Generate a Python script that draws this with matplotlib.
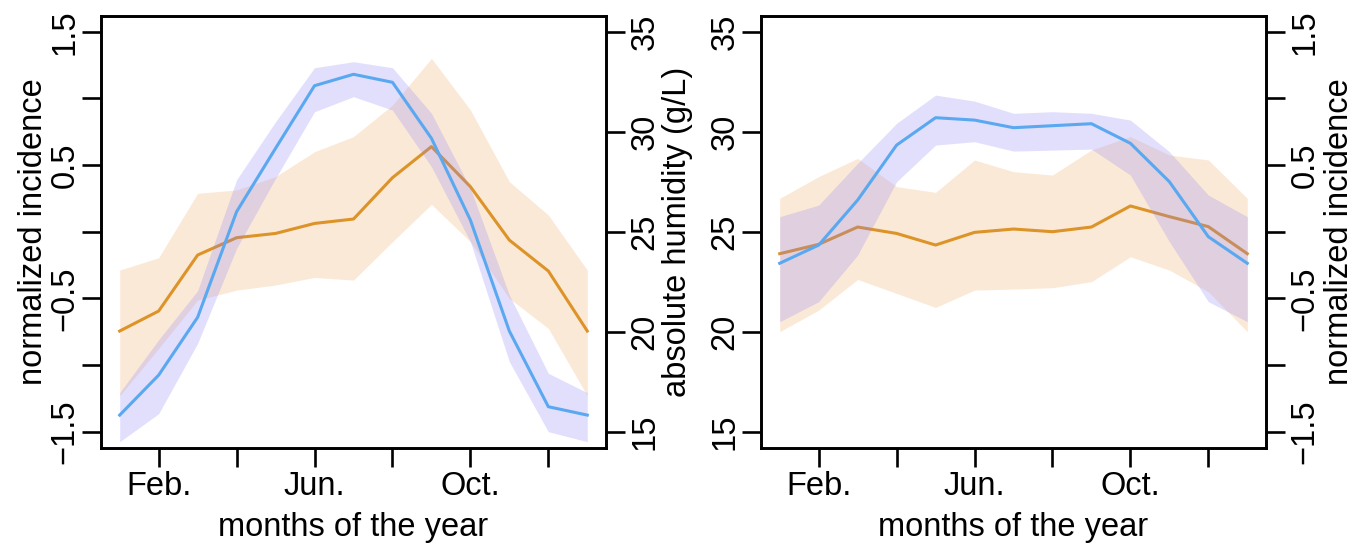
import matplotlib
matplotlib.use("Agg")
import matplotlib.pyplot as plt
from matplotlib.ticker import FixedLocator, FixedFormatter

plt.rcParams['font.family'] = ['Liberation Sans', 'DejaVu Sans']
plt.rcParams['axes.unicode_minus'] = True

# ---------------- data ----------------
months = list(range(1, 14))
month_ticks = [2, 4, 6, 8, 10, 12]
month_labels = ['Feb.', '', 'Jun.', '', 'Oct.', '']

inc_ticks = [-1.5, -1.0, -0.5, 0.0, 0.5, 1.0, 1.5]
inc_labels = ['\u22121.5', '', '\u22120.5', '', '0.5', '', '1.5']
hum_ticks = [15, 20, 25, 30, 35]
hum_labels = ['15', '20', '25', '30', '35']

# left panel
inc_L = [-0.745, -0.595, -0.175, -0.045, -0.013, 0.062, 0.095, 0.405, 0.638, 0.338, -0.063, -0.295, -0.745]
inc_L_hi = [-0.288, -0.195, 0.288, 0.313, 0.413, 0.600, 0.713, 0.950, 1.300, 0.913, 0.375, 0.125, -0.288]
inc_L_lo = [-1.23, -0.875, -0.513, -0.438, -0.400, -0.343, -0.363, -0.075, 0.205, -0.075, -0.500, -0.725, -1.23]
hum_L = [15.83, 17.83, 20.72, 26.0, 29.17, 32.3, 32.87, 32.47, 29.67, 25.58, 20.03, 16.25, 15.83]
hum_L_hi = [16.95, 19.6, 22.05, 27.6, 30.5, 33.2, 33.5, 33.2, 30.92, 27.17, 21.83, 17.92, 16.95]
hum_L_lo = [14.5, 15.9, 19.42, 24.17, 27.67, 31.0, 31.75, 31.08, 28.25, 24.5, 18.5, 15.0, 14.5]

# right panel
hum_R = [23.42, 24.33, 26.58, 29.33, 30.7, 30.58, 30.2, 30.3, 30.4, 29.42, 27.5, 24.75, 23.42]
hum_R_hi = [25.75, 26.33, 28.42, 30.42, 31.83, 31.53, 30.92, 31.0, 30.92, 30.58, 29.0, 26.83, 25.75]
hum_R_lo = [20.5, 21.5, 23.83, 27.5, 29.33, 29.5, 29.03, 29.08, 29.13, 27.83, 24.5, 21.5, 20.5]
inc_R = [-0.165, -0.095, 0.035, -0.013, -0.1, -0.005, 0.02, 0.0, 0.035, 0.193, 0.113, 0.038, -0.165]
inc_R_hi = [0.25, 0.413, 0.55, 0.338, 0.295, 0.538, 0.45, 0.425, 0.613, 0.713, 0.575, 0.538, 0.25]
inc_R_lo = [-0.75, -0.588, -0.358, -0.463, -0.568, -0.438, -0.43, -0.42, -0.375, -0.188, -0.288, -0.45, -0.75]

# ---------------- style ----------------
FS = 23.5
ORANGE_LINE = '#dc9328'
BLUE_LINE = '#5aa8f0'
ORANGE_FILL = '#f0a860'
BLUE_FILL = '#8c82fa'
OA, BA = 0.25, 0.25
LW = 2.2
TICKLEN = 14
SPW = 1.9

W, H = 1370, 546
fig = plt.figure(figsize=(W / 100, H / 100), dpi=100)


def rect(x0, x1, ytop, ybot):
    return [x0 / W, 1 - ybot / H, (x1 - x0) / W, (ybot - ytop) / H]


XLIM = (0.52, 13.48)
INC_LIM = (-1.62, 1.62)
HUM_LIM = (14.2, 35.8)


def style_x(ax):
    ax.set_xlim(*XLIM)
    ax.xaxis.set_major_locator(FixedLocator(month_ticks))
    ax.xaxis.set_major_formatter(FixedFormatter(month_labels))
    ax.tick_params(axis='x', direction='out', length=TICKLEN, width=SPW,
                   labelsize=FS, pad=3)
    ax.set_xlabel('months of the year', fontsize=FS)
    ax.xaxis.set_label_coords(0.5, -0.148)
    for s in ax.spines.values():
        s.set_linewidth(SPW)


def style_inc(ax):
    ax.set_ylim(*INC_LIM)
    ax.yaxis.set_major_locator(FixedLocator(inc_ticks))
    ax.yaxis.set_major_formatter(FixedFormatter(inc_labels))


def style_hum(ax):
    ax.set_ylim(*HUM_LIM)
    ax.yaxis.set_major_locator(FixedLocator(hum_ticks))
    ax.yaxis.set_major_formatter(FixedFormatter(hum_labels))


def style_y(ax, side):
    pad = 0.5 if side == 'left' else 3
    ax.tick_params(axis='y', direction='out', length=TICKLEN, width=SPW,
                   labelsize=FS, pad=pad, labelrotation=90)
    for lab in ax.get_yticklabels():
        lab.set_va('center')
    for s in ax.spines.values():
        s.set_linewidth(SPW)


# ---------------- left panel ----------------
axL = fig.add_axes(rect(101, 606, 15.7, 447.7))
axL.fill_between(months, inc_L_lo, inc_L_hi, color=ORANGE_FILL, alpha=OA, lw=0)
axL.plot(months, inc_L, color=ORANGE_LINE, lw=LW)
style_inc(axL)
style_x(axL)
style_y(axL, 'left')
axL.set_ylabel('normalized incidence', fontsize=FS)
axL.yaxis.set_label_coords(-0.1327, 0.5)
axL.yaxis.label.set_va('center')

axLh = axL.twinx()
axLh.fill_between(months, hum_L_lo, hum_L_hi, color=BLUE_FILL, alpha=BA, lw=0)
axLh.plot(months, hum_L, color=BLUE_LINE, lw=LW)
style_hum(axLh)
style_y(axLh, 'right')
axLh.set_ylabel('absolute humidity (g/L)', fontsize=FS)
axLh.yaxis.set_label_coords(1.1406, 0.5)
axLh.yaxis.label.set_va('center')

# ---------------- right panel ----------------
axR = fig.add_axes(rect(761, 1266, 15.7, 447.7))
axR.fill_between(months, inc_R_lo, inc_R_hi, color=ORANGE_FILL, alpha=OA, lw=0)
axR.plot(months, inc_R, color=ORANGE_LINE, lw=LW)
style_inc(axR)
style_x(axR)

axRh = axR.twinx()
axRh.fill_between(months, hum_R_lo, hum_R_hi, color=BLUE_FILL, alpha=BA, lw=0)
axRh.plot(months, hum_R, color=BLUE_LINE, lw=LW)
style_hum(axRh)

# swap sides: incidence on the right, humidity on the left
axR.yaxis.tick_right()
axR.yaxis.set_label_position('right')
axRh.yaxis.tick_left()
axRh.yaxis.set_label_position('left')
style_y(axR, 'right')
style_y(axRh, 'left')
axR.set_ylabel('normalized incidence', fontsize=FS)
axR.yaxis.set_label_coords(1.1465, 0.5)
axR.yaxis.label.set_va('center')

fig.savefig('out.png', dpi=100)
